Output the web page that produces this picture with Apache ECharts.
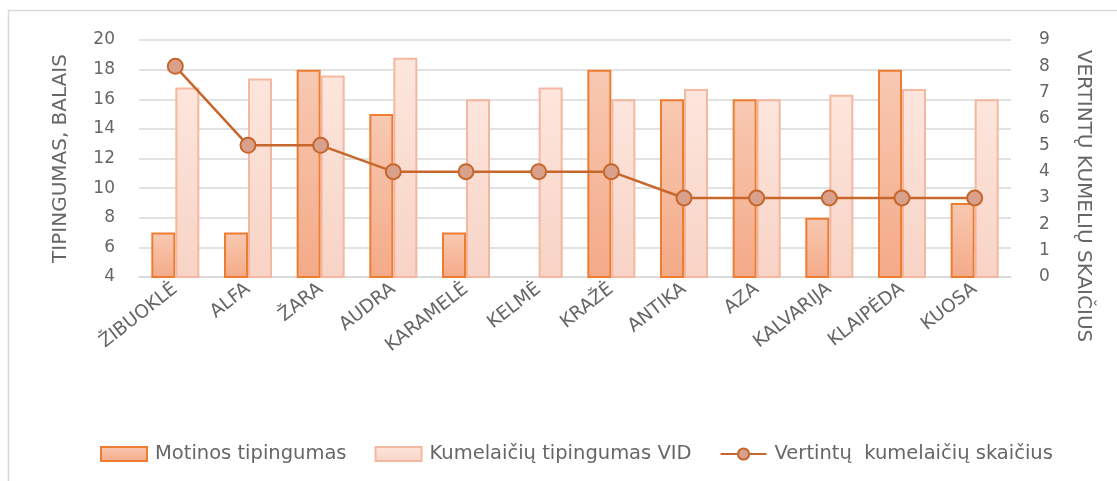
<!DOCTYPE html>
<html>
<head>
<meta charset="utf-8">
<script src="https://cdn.jsdelivr.net/npm/echarts@6/dist/echarts.min.js"></script>
<style>
html,body{margin:0;padding:0;background:#fff;overflow:hidden;}
#c{width:1117px;height:481px;}
</style>
</head>
<body>
<div id="c"></div>
<script>
const categories = ['ŽIBUOKLĖ','ALFA','ŽARA','AUDRA','KARAMELĖ','KELMĖ','KRAŽĖ','ANTIKA','AZA','KALVARIJA','KLAIPĖDA','KUOSA'];
const motinosTipingumas = [7, 7, 18, 15, 7, null, 18, 16, 16, 8, 18, 9];
const kumelaiciuTipingumas = [16.8, 17.4, 17.6, 18.8, 16, 16.8, 16, 16.7, 16, 16.3, 16.7, 16];
const vertintuSkaicius = [8, 5, 5, 4, 4, 4, 4, 3, 3, 3, 3, 3];
const seriesNames = ['Motinos tipingumas', 'Kumelaičių tipingumas VID', 'Vertintų  kumelaičių skaičius'];
const leftAxisTitle = 'TIPINGUMAS, BALAIS';
const rightAxisTitle = 'VERTINTŲ KUMELIŲ SKAIČIUS';

const FONT = '"DejaVu Sans", "Liberation Sans", sans-serif';
const TXT = '#666666';
const chart = echarts.init(document.getElementById('c'), null, {renderer: 'canvas'});
const lg = (a, b) => new echarts.graphic.LinearGradient(0, 0, 0, 1, [{offset: 0, color: a}, {offset: 1, color: b}]);

chart.setOption({
  animation: false,
  backgroundColor: '#fff',
  textStyle: {fontFamily: FONT},
  grid: {left: 139, right: 106, top: 40, bottom: 204, containLabel: false},
  graphic: [
    {type: 'polyline', shape: {points: [[8.5, 481], [8.5, 10.5], [1117, 10.5]]}, style: {fill: 'none', stroke: '#d9d9d9', lineWidth: 1.5}, silent: true, z: -10},
    {type: 'text', x: 1083, y: 196, rotation: -Math.PI / 2,
     style: {text: rightAxisTitle, fill: TXT, font: '20px ' + FONT, align: 'center', verticalAlign: 'middle'}}
  ],
  legend: {
    left: 95, top: 439,
    itemWidth: 46, itemHeight: 14, itemGap: 28,
    textStyle: {color: TXT, fontSize: 19.5, fontFamily: FONT, padding: [0, 0, 0, 3]},
    data: [
      {name: seriesNames[0], icon: 'rect'},
      {name: seriesNames[1], icon: 'rect'},
      {name: seriesNames[2]}
    ]
  },
  xAxis: {
    type: 'category', data: categories,
    axisLine: {lineStyle: {color: '#d9d9d9', width: 1.5}},
    axisTick: {show: false},
    axisLabel: {rotate: 38, color: TXT, fontSize: 18.5, margin: 10, fontFamily: FONT, interval: 0}
  },
  yAxis: [
    {type: 'value', min: 4, max: 20, interval: 2,
     name: leftAxisTitle, nameLocation: 'middle', nameGap: 68, nameRotate: 90,
     nameTextStyle: {color: TXT, fontSize: 20, fontFamily: FONT},
     axisLine: {show: false}, axisTick: {show: false},
     axisLabel: {color: TXT, fontSize: 17, margin: 24, fontFamily: FONT},
     splitLine: {lineStyle: {color: '#d9d9d9', width: 1.5}}},
    {type: 'value', min: 0, max: 9, interval: 1, position: 'right',
     axisLine: {show: false}, axisTick: {show: false},
     axisLabel: {color: TXT, fontSize: 17, margin: 28, fontFamily: FONT},
     splitLine: {show: false}}
  ],
  series: [
    {name: seriesNames[0], type: 'bar', data: motinosTipingumas, yAxisIndex: 0,
     barWidth: 24, barGap: '0%',
     itemStyle: {color: lg('#f8c9b2', '#f4aa88'), borderColor: '#ed7d31', borderWidth: 2}},
    {name: seriesNames[1], type: 'bar', data: kumelaiciuTipingumas, yAxisIndex: 0,
     barWidth: 24, barGap: '0%',
     itemStyle: {color: lg('#fde6dd', '#f8d3c6'), borderColor: '#f4b8a0', borderWidth: 2}},
    {name: seriesNames[2], type: 'line', data: vertintuSkaicius, yAxisIndex: 1,
     symbol: 'circle', symbolSize: 15,
     lineStyle: {color: '#c8672c', width: 2.5},
     itemStyle: {color: '#d9a08c', borderColor: '#c5672d', borderWidth: 2},
     z: 5}
  ]
});
</script>
</body>
</html>
